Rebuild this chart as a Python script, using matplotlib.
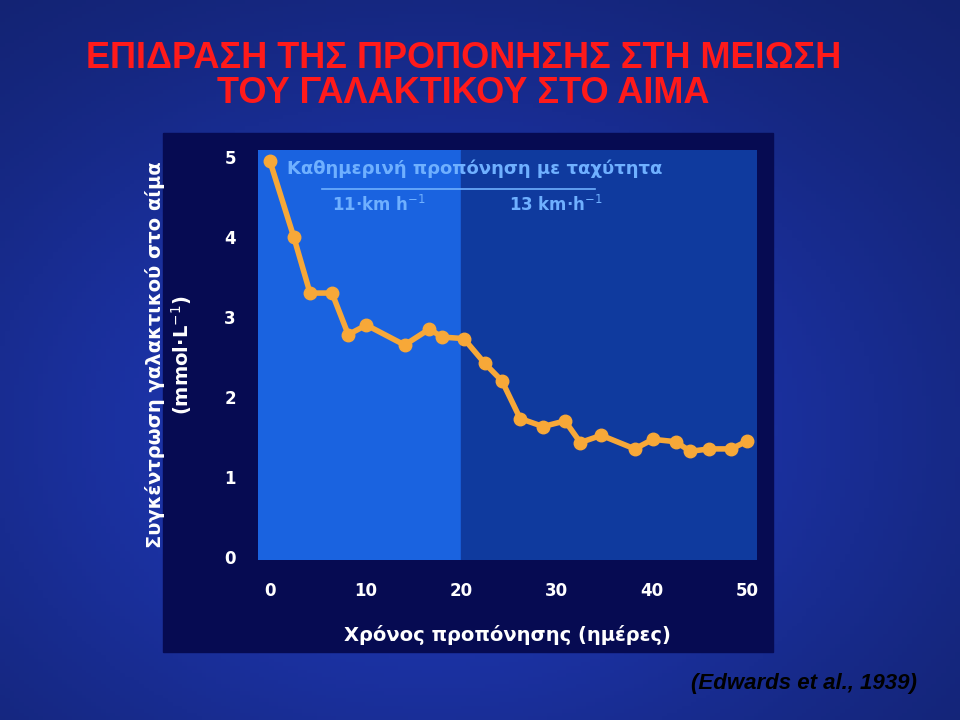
import numpy as np
import matplotlib.pyplot as plt
from matplotlib.patches import Rectangle

# training day vs blood lactate (mmol/L)
days = [0, 2.5, 4.2, 6.5, 8.2, 10.1, 14.1, 16.7, 18, 20.3, 22.5, 24.3,
        26.2, 28.6, 30.9, 32.5, 34.7, 38.2, 40.1, 42.5, 44, 46, 48.3, 50]
lactate = [4.95, 4.0, 3.3, 3.3, 2.78, 2.9, 2.65, 2.85, 2.75, 2.73, 2.42, 2.2,
           1.73, 1.63, 1.7, 1.43, 1.52, 1.35, 1.47, 1.44, 1.32, 1.35, 1.35, 1.45]
x_ticks = [0, 10, 20, 30, 40, 50]
y_ticks = [0, 1, 2, 3, 4, 5]

fig = plt.figure(figsize=(9.6, 7.2), dpi=100)

# background
bg = fig.add_axes([0, 0, 1, 1])
yy, xx = np.mgrid[0:1:200j, 0:1:200j]
grad = 0.55 + 0.45 * np.exp(-((xx - 0.45) ** 2 + (yy - 0.6) ** 2) * 3)
bg.imshow(np.dstack([0.12 * grad, 0.22 * grad, 0.72 * grad]), extent=[0, 1, 0, 1], aspect='auto')
bg.set_xlim(0, 1)
bg.set_ylim(0, 1)
bg.axis('off')
bg.add_patch(Rectangle((163 / 960, 1 - 652 / 720), 610 / 960, 519 / 720,
                       color='#060b52', zorder=2))

fig.text(0.483, 0.894, "ΕΠΙΔΡΑΣΗ ΤΗΣ ΠΡΟΠΟΝΗΣΗΣ ΣΤΗ ΜΕΙΩΣΗ\nΤΟΥ ΓΑΛΑΚΤΙΚΟΥ ΣΤΟ ΑΙΜΑ",
         color='#ff1a1a', fontsize=26, fontweight='bold', ha='center', va='center',
         family='Liberation Sans', linespacing=1.0)
fig.text(0.955, 0.05, "(Edwards et al., 1939)", color='black', fontsize=16,
         fontweight='bold', style='italic', ha='right', va='center', family='Liberation Sans')

ax = fig.add_axes([258 / 960, 160 / 720, 499 / 960, 410 / 720])
ax.set_xlim(-1.25, 51)
ax.set_ylim(-0.04, 5.09)
ax.axvspan(-1.25, 20, color='#1a63e0', zorder=0)
ax.axvspan(20, 51, color='#0f3a9e', zorder=0)
ax.plot(days, lactate, color='#f7a838', lw=4, marker='o', ms=9, zorder=3)
for s in ax.spines.values():
    s.set_visible(False)
ax.set_xticks(x_ticks)
ax.set_yticks(y_ticks)
ax.tick_params(colors='white', length=0, labelsize=12, pad=16)
for lab in ax.get_xticklabels() + ax.get_yticklabels():
    lab.set_fontweight('bold')
ax.set_xlabel("Χρόνος προπόνησης (ημέρες)", color='white', fontsize=14,
              fontweight='bold', labelpad=18)
ax.set_ylabel("Συγκέντρωση γαλακτικού στο αίμα\n(mmol·L$^{-1}$)", color='white',
              fontsize=14, fontweight='bold', labelpad=22)

ax.text(1.8, 4.85, "Καθημερινή προπόνηση με ταχύτητα", color='#6fb0ff',
        fontsize=13, fontweight='bold', va='center')
ax.plot([5.5, 34], [4.6, 4.6], color='#6fb0ff', lw=1.2)
ax.text(6.5, 4.4, "11·km h$^{-1}$", color='#6fb0ff', fontsize=12, fontweight='bold', va='center')
ax.text(25, 4.4, "13 km·h$^{-1}$", color='#6fb0ff', fontsize=12, fontweight='bold', va='center')

fig.savefig('out.png', dpi=100)
